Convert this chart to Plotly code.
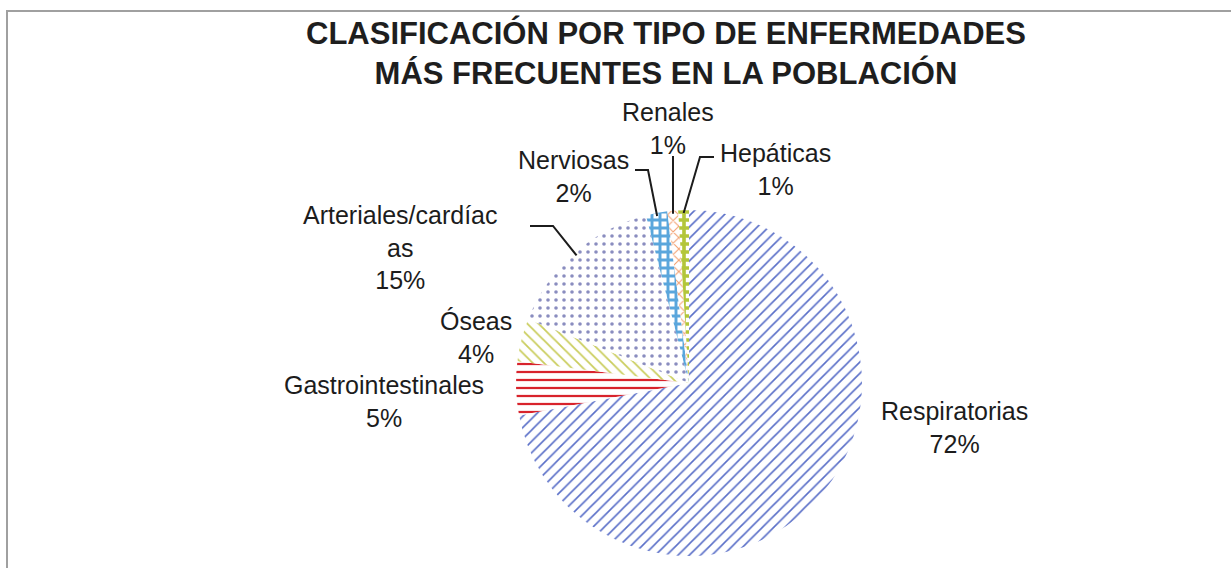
import math
import plotly.graph_objects as go

# Disease categories and their share of the population (percent)
categories = ["Respiratorias", "Gastrointestinales", "Óseas", "Arteriales/cardíac<br>as",
              "Nerviosas", "Renales", "Hepáticas"]
values = [72, 5, 4, 15, 2, 1, 1]

# Fill styles per slice
pattern_shapes = ["/", "-", "\\", ".", "+", "x", "+"]
pattern_colors = ["#5a6fc8", "#d8232c", "#cacd5c", "#8a8dbf", "#5aa6dc", "#f3a070", "#b3c63a"]
pattern_solidity = [0.2, 0.28, 0.22, 0.16, 0.6, 0.25, 0.7]

W, H = 1231, 568
CX, CY, R = 689, 383, 173          # pie centre and radius in pixels

def px(x):
    return x / W

def py(y):
    return 1 - y / H

fig = go.Figure(go.Pie(
    labels=categories,
    values=values,
    sort=False,
    direction="clockwise",
    rotation=0,
    textinfo="none",
    hoverinfo="label+percent",
    domain=dict(x=[px(CX - R), px(CX + R)], y=[py(CY + R), py(CY - R)]),
    marker=dict(
        colors=pattern_colors,
        line=dict(color="white", width=0),
        pattern=dict(shape=pattern_shapes, fgcolor=pattern_colors, bgcolor="white",
                     size=8, solidity=pattern_solidity, fillmode="replace"),
    ),
    showlegend=False,
))

# Label block centres (pixels) and leader-line elbows (None = no leader line)
label_pos = [(954, 427), (384, 401), (476, 337), (400, 248), (573, 177), (668, 128), (775, 169)]
leader_elbows = [None, None, None,
                 [(530, 226), (553, 226)],
                 [(635, 170), (648, 170)],
                 [(673, 156)],
                 [(714, 157), (700, 157)]]

total = sum(values)
cum = 0
annotations = []
shapes = []
for name, v, (lx, ly), elbow in zip(categories, values, label_pos, leader_elbows):
    mid = (cum + v / 2) / total * 2 * math.pi
    cum += v
    pct = round(v / total * 100)
    annotations.append(dict(
        x=px(lx), y=py(ly), xref="paper", yref="paper",
        text=f"{name}<br>{pct}%", showarrow=False,
        xanchor="center", yanchor="middle", align="center",
        font=dict(family="Liberation Sans, Arial, sans-serif", size=25, color="#1c1c1c"),
    ))
    if elbow:
        ex = CX + (R - 3) * math.sin(mid)
        ey = CY - (R - 3) * math.cos(mid)
        pts = list(elbow) + [(ex, ey)]
        path = "M " + " L ".join(f"{px(x)},{py(y)}" for x, y in pts)
        shapes.append(dict(type="path", xref="paper", yref="paper", path=path,
                           line=dict(color="#1c1c1c", width=2)))

# Chart title
annotations.append(dict(
    x=px(666), y=py(53), xref="paper", yref="paper",
    text="<b>CLASIFICACIÓN POR TIPO DE ENFERMEDADES<br>MÁS FRECUENTES EN LA POBLACIÓN</b>",
    showarrow=False, xanchor="center", yanchor="middle", align="center",
    font=dict(family="Liberation Sans, Arial, sans-serif", size=31, color="#1e1e1e"),
))

# Chart frame
shapes.append(dict(type="rect", xref="paper", yref="paper",
                   x0=px(7), y0=-0.05, x1=1.05, y1=py(11),
                   line=dict(color="#a0a0a0", width=2), fillcolor="rgba(0,0,0,0)"))

fig.update_layout(
    width=W, height=H,
    margin=dict(l=0, r=0, t=0, b=0),
    paper_bgcolor="white",
    plot_bgcolor="white",
    annotations=annotations,
    shapes=shapes,
)

fig.write_html("out.html")
